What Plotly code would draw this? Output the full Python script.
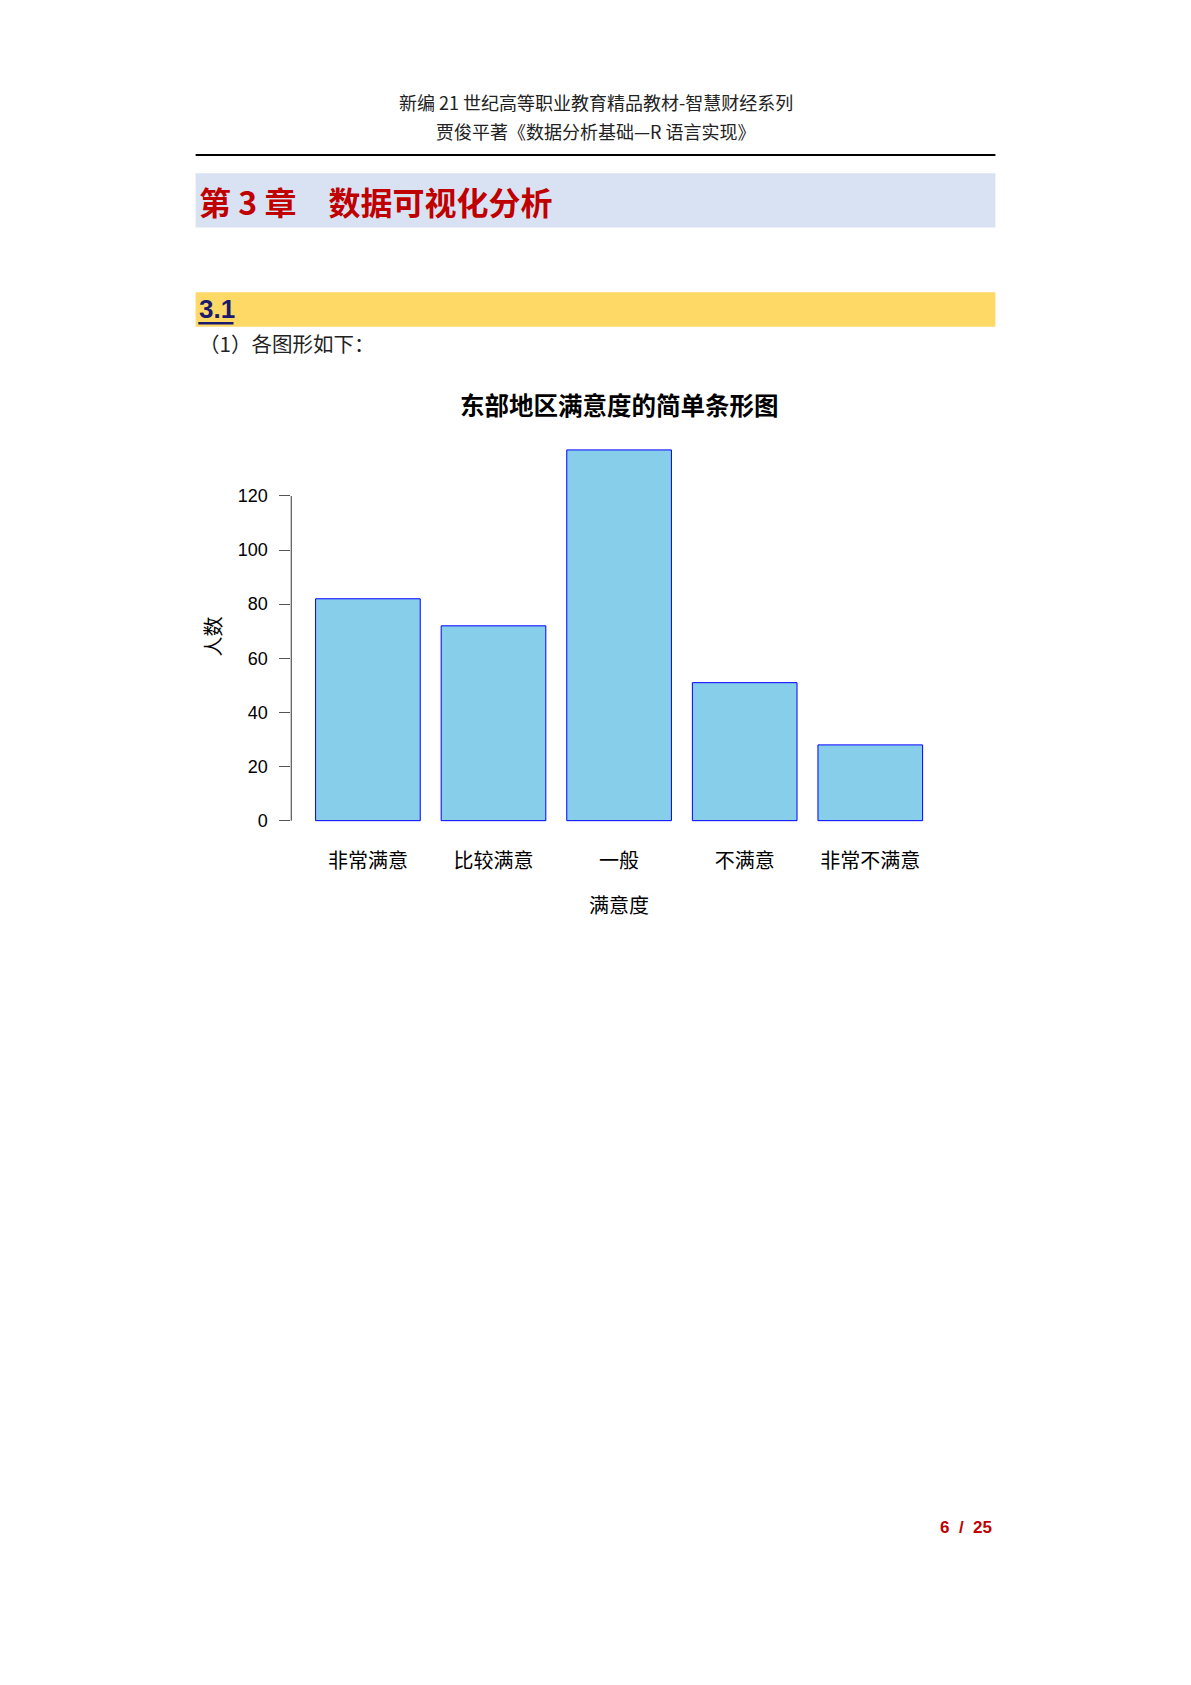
import plotly.graph_objects as go

# ---- data ----
categories = ["非常满意", "比较满意", "一般", "不满意", "非常不满意"]
counts = [82, 72, 137, 51, 28]
y_ticks = [0, 20, 40, 60, 80, 100, 120]
chart_title = "东部地区满意度的简单条形图"
x_title = "满意度"
y_title = "人数"

header1 = "新编 21 世纪高等职业教育精品教材-智慧财经系列"
header2 = "贾俊平著《数据分析基础—R 语言实现》"
chapter = "第 3 章\u3000数据可视化分析"
section = "3.1"
body = "（1）各图形如下："
page_no = "6  /  25"

W, H = 1191, 1685


def xp(px):
    return px / W


def yp(py):
    return 1 - py / H


CJK = "Noto Sans CJK SC"
ARIAL = "Liberation Sans, Arial, Noto Sans CJK SC"

# R barplot-like geometry: width 1, space 0.2 -> bar fraction 1/1.2
bar_frac = 1 / 1.2
n = len(categories)
span = (n - 1) + bar_frac
xpad = 0.04 * span
x_range = [-bar_frac / 2 - xpad, (n - 1) + bar_frac / 2 + xpad]
ymax = max(counts)
y_range = [-0.04 * ymax, ymax * 1.04]

plot_left, plot_right = 291.3, 946.9
plot_top, plot_bottom = 435.1, 835.5

fig = go.Figure()
fig.add_trace(go.Bar(
    x=categories, y=counts,
    marker=dict(color="#87CEEB", line=dict(color="#0000FF", width=1)),
    hoverinfo="x+y",
))

fig.update_layout(
    width=W, height=H, autosize=False,
    margin=dict(l=0, r=0, t=0, b=0),
    paper_bgcolor="white", plot_bgcolor="white",
    showlegend=False,
    bargap=1 - bar_frac,
    xaxis=dict(
        domain=[xp(plot_left), xp(plot_right)],
        type="category", range=x_range,
        showline=False, showgrid=False, zeroline=False, ticks="",
        tickfont=dict(family=ARIAL, size=20, color="black"),
        ticklabelstandoff=11,
    ),
    yaxis=dict(
        domain=[yp(plot_bottom), yp(plot_top)],
        range=y_range,
        tickmode="array", tickvals=y_ticks, ticktext=[str(t) for t in y_ticks],
        showline=False, showgrid=False, zeroline=False,
        ticks="outside", ticklen=11, tickwidth=1.2, tickcolor="#555",
        tickfont=dict(family=ARIAL, size=18, color="black"),
        ticklabelstandoff=8,
    ),
)

# y axis spine only over the tick range (R style)
fig.add_shape(type="line", xref="x domain", yref="y", x0=0, x1=0,
              y0=min(y_ticks), y1=max(y_ticks),
              line=dict(color="#555", width=1.2))

# page decorations
fig.add_shape(type="line", xref="paper", yref="paper",
              x0=xp(195.6), x1=xp(995.4), y0=yp(155), y1=yp(155),
              line=dict(color="black", width=2))
fig.add_shape(type="rect", xref="paper", yref="paper",
              x0=xp(195.6), x1=xp(995.4), y0=yp(173.3), y1=yp(227.5),
              line=dict(width=0), fillcolor="#D9E2F3", layer="below")
fig.add_shape(type="rect", xref="paper", yref="paper",
              x0=xp(195.6), x1=xp(995.4), y0=yp(292.3), y1=yp(326.7),
              line=dict(width=0), fillcolor="#FFD966", layer="below")
fig.add_shape(type="line", xref="paper", yref="paper",
              x0=xp(198.3), x1=xp(233.5), y0=yp(323.3), y1=yp(323.3),
              line=dict(color="#1a1a6e", width=2.5))

ann = []


def text(x, y, s, size, color="#222", family=CJK, xanchor="center", bold=False, angle=0):
    ann.append(dict(
        x=xp(x), y=yp(y), xref="paper", yref="paper", text=s, showarrow=False,
        xanchor=xanchor, yanchor="middle", textangle=angle,
        font=dict(family=family, size=size, color=color, weight="bold" if bold else "normal"),
    ))


text(595.5, 101.5, header1, 18)
text(595.5, 131.5, header2, 18)
text(197, 201, chapter, 32, color="#C00000", bold=True, xanchor="left")
text(197, 309, section, 26, color="#1a1a6e", family=ARIAL, bold=True, xanchor="left")
text(197, 343, body, 20.5, color="#222", xanchor="left")
text(994, 1527.5, page_no, 17, color="#C00000", family=ARIAL, bold=True, xanchor="right")

# chart titles
text((plot_left + plot_right) / 2, 405.8, chart_title, 24.5, color="black", family=ARIAL, bold=True)
text((plot_left + plot_right) / 2, 906, x_title, 20, color="black", family=ARIAL)
text(213.7, 636.7, y_title, 20, color="black", family=ARIAL, angle=-90)

fig.update_layout(annotations=ann)

fig.write_html("out.html", config={"displayModeBar": False},
               post_script="document.body.style.margin='0px';")
